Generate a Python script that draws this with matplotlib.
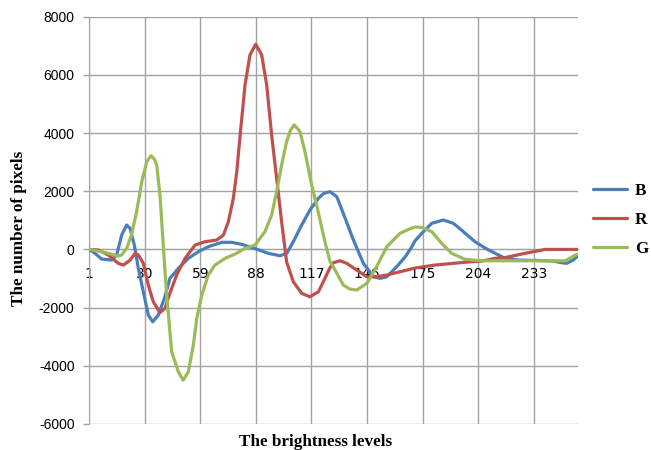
import matplotlib
matplotlib.use("Agg")
import matplotlib.pyplot as plt
from matplotlib.font_manager import FontProperties

# Difference histograms per colour channel (brightness level -> pixel count)
levels_b = [1, 4, 7.4, 12.7, 15.3, 17.9, 20.5, 22.3, 24.5, 26.6, 29.2, 31.8, 34.1, 37,
            40.5, 43.1, 47.5, 52.7, 57.9, 63.1, 70.1, 75.4, 80.6, 87.5, 94.5, 100.6,
            104.1, 107.5, 111.9, 116.2, 120.6, 123.5, 126.7, 130.2, 133.6, 138.9, 144.1,
            149.3, 152.8, 156.3, 161.5, 166, 169.4, 171.1, 174.6, 179.8, 185.9, 191.1,
            196.3, 202.4, 207.6, 212.9, 218.1, 225, 235, 243, 247.7, 250.3, 253.7, 256]
counts_b = [0, -134, -330, -365, -190, 495, 840, 725, 150, -650, -1455, -2257, -2487, -2257,
            -1620, -994, -650, -306, -80, 93, 244, 244, 175, 30, -134, -217,
            -134, 265, 840, 1355, 1758, 1930, 1985, 1813, 1240, 323, -478,
            -939, -994, -939, -595, -250, 93, 300, 553, 897, 1011, 897,
            610, 265, 50, -134, -306, -365, -380, -400, -457, -478, -365, -220]

levels_r = [1, 5.7, 10.9, 16.1, 18.8, 22.3, 24.9, 26.6, 29.2, 31.8, 34.4, 37.9, 40.5, 43.1,
            46.6, 51, 56.2, 61.4, 67.5, 71, 73.6, 76.2, 78, 79.7, 82.3, 84.9, 87.9, 91,
            93.6, 96.2, 98.8, 101.4, 104, 107.5, 111.9, 116.2, 120.6, 124, 126.5, 128.4,
            131.9, 135.4, 140.6, 145.9, 151, 156.3, 163.2, 171.1, 181.5, 197.2, 206,
            212.9, 218.1, 228.5, 234.6, 239, 256]
counts_r = [0, -20, -190, -478, -537, -365, -134, -190, -478, -1225, -1800, -2170, -2026, -1500,
            -880, -306, 151, 265, 323, 495, 953, 1758, 2673, 3900, 5655, 6687, 7055, 6687,
            5655, 3935, 2445, 953, -423, -1111, -1510, -1627, -1455, -1000, -650, -457,
            -390, -478, -709, -939, -939, -880, -767, -640, -537, -440, -400,
            -306, -280, -134, -55, 0, 0]

levels_g = [1, 7.5, 13, 16, 17.9, 20.5, 23, 25.7, 28.4, 31, 33.2, 35, 36.2, 37.9, 39.6, 41.4,
            44, 47.5, 50, 52.7, 55.3, 57.1, 59.7, 63.1, 66.6, 71.9, 77.1, 82.3, 87.5, 92.7,
            96.2, 98.8, 101.4, 104, 106, 108, 111, 113.6, 117.1, 120.5, 124, 126.7, 128.4,
            133.6, 137, 140.6, 145.9, 151, 156.3, 163.2, 168, 171.1, 174.6, 179.8, 185,
            190.2, 197.2, 205.9, 220, 240, 249.4, 252, 254.6, 256]
counts_g = [0, -80, -170, -227, -190, 38, 495, 1297, 2330, 3017, 3225, 3100, 2900, 1870, 150, -1570,
            -3520, -4207, -4493, -4207, -3290, -2370, -1570, -880, -537, -306, -160, 38, 150, 610,
            1183, 1985, 2900, 3700, 4100, 4280, 4050, 3360, 2215, 1297, 265, -420, -595,
            -1225, -1360, -1397, -1166, -595, 93, 553, 700, 770, 760, 610, 210,
            -134, -340, -390, -390, -390, -390, -300, -200, -170]

series_names = ["B", "R", "G"]
series_colors = ["#4a7ebb", "#c0504d", "#9bbb59"]

tick_levels = [1, 30, 59, 88, 117, 146, 175, 204, 233]
y_ticks = [-6000, -4000, -2000, 0, 2000, 4000, 6000, 8000]

grid_color = "#a3a3a3"
sans = "Liberation Sans"
serif_bold = FontProperties(family="Liberation Serif", weight="bold", size=12.3)

fig = plt.figure(figsize=(6.51, 4.5), dpi=100)
ax = fig.add_axes([0.1372, 0.0578, 0.7502, 0.9051])

series = [(levels_b, counts_b), (levels_r, counts_r), (levels_g, counts_g)]
for (xs, ys), name, color in zip(series, series_names, series_colors):
    ax.plot(xs, ys, color=color, lw=2.3, label=name,
            solid_joinstyle="round", solid_capstyle="round", zorder=3)

ax.set_xlim(1, 256)
ax.set_ylim(-6000, 8000)
ax.set_xticks(tick_levels)
ax.set_yticks(y_ticks)
ax.set_xticklabels([str(t) for t in tick_levels], fontfamily=sans, fontsize=10)
ax.set_yticklabels([str(t) for t in y_ticks], fontfamily=sans, fontsize=10)

ax.grid(True, color=grid_color, lw=1)
ax.set_axisbelow(True)
for side in ("top", "right"):
    ax.spines[side].set_visible(False)
ax.spines["left"].set_color(grid_color)
ax.spines["bottom"].set_color(grid_color)
ax.spines["bottom"].set_position(("data", 0))

ax.tick_params(axis="y", length=4.3, width=1, color=grid_color, pad=6.3)
ax.tick_params(axis="x", length=0, pad=13)

fig.text(316 / 651, 1 - 442 / 450, "The brightness levels", ha="center", va="center",
         fontproperties=serif_bold)
fig.text(19 / 651, 1 - 228 / 450, "The number of pixels", ha="center", va="center",
         rotation=90, fontproperties=serif_bold)

ax.legend(loc="center left", bbox_to_anchor=(593 / 651, 1 - 220 / 450),
          bbox_transform=fig.transFigure, frameon=False, borderpad=0, borderaxespad=0,
          handlelength=2.0, handletextpad=0.45, labelspacing=0.78, prop=serif_bold)

fig.savefig("out.png", dpi=100, facecolor="white")
